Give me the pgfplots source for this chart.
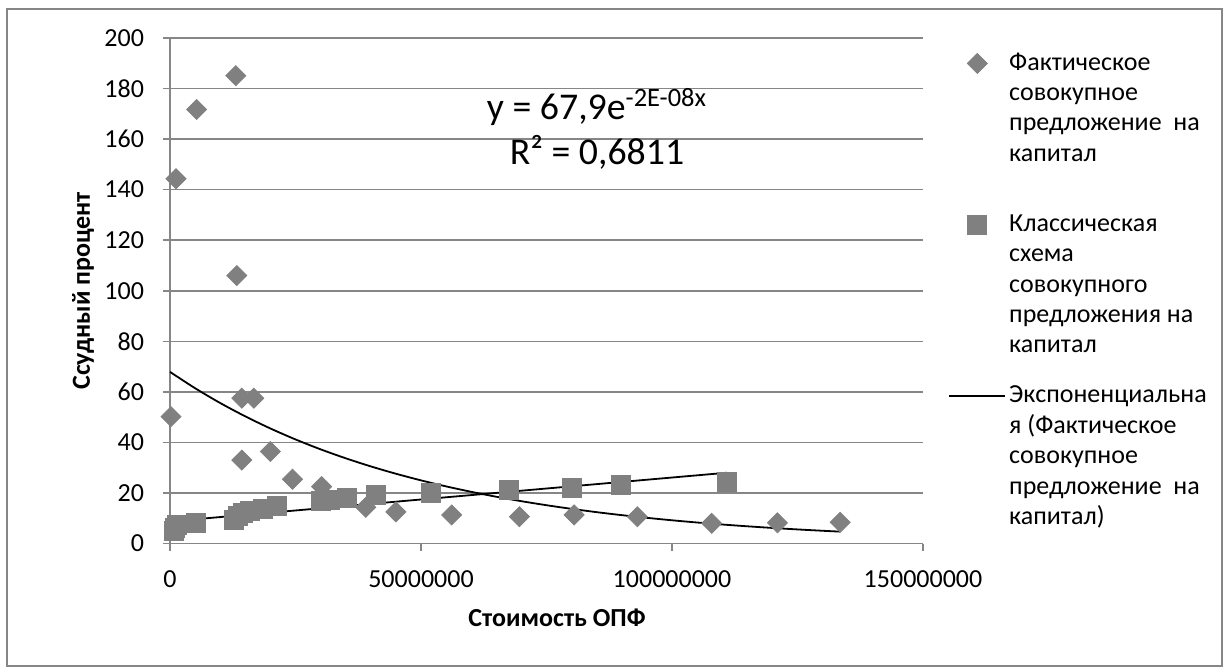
\documentclass[border=0pt]{standalone}
\usepackage{fontspec}
\setmainfont{Carlito}
\usepackage{pgfplots}
\pgfplotsset{compat=1.18}
\definecolor{gridgray}{RGB}{134,134,134}
\definecolor{markgray}{RGB}{128,128,128}
\begin{document}
\fontsize{13bp}{15.15bp}\selectfont
\begin{tikzpicture}[x=1bp,y=1bp]
\useasboundingbox (0,0) rectangle (614,334);
\draw[gridgray, line width=0.6bp] (3.5,1) rectangle (611,329.5);
\begin{axis}[
  at={(85bp,62.25bp)}, anchor=south west,
  scale only axis, width=376.5bp, height=252.75bp,
  xmin=0, xmax=150000000, ymin=0, ymax=200,
  axis lines*=left,
  axis line style={gridgray, line width=0.75bp},
  ymajorgrids, major grid style={gridgray, line width=0.75bp},
  tick style={gridgray, line width=0.75bp},
  tick align=outside, major tick length=3.5bp,
  scaled x ticks=false,
  xtick={0,50000000,100000000,150000000},
  xticklabels={0,50000000,100000000,150000000},
  ytick={0,20,...,200},
  /pgf/number format/assume math mode=true,
  ticklabel style={font=\fontsize{13bp}{15.15bp}\selectfont, text=black},
  xticklabel style={yshift=-5.5bp},
  yticklabel style={xshift=-5bp},
  xlabel={Стоимость ОПФ}, ylabel={Ссудный процент},
  label style={font=\fontsize{13bp}{15.15bp}\selectfont\bfseries},
  xlabel style={at={(axis description cs:0.514,0)}, anchor=center, yshift=-37.25bp},
  ylabel style={at={(axis description cs:-0.1155,0.5)}, anchor=center},
  clip=false,
  legend cell align=left,
  legend style={draw=none, fill=none, inner sep=0pt, at={(axis description cs:1.0332,0.9793)}, anchor=north west, row sep=2.65bp, column sep=1.5bp, font=\fontsize{13bp}{15.15bp}\selectfont, cells={anchor=base west}, nodes={inner sep=0pt}},
  legend image code/.code={\draw[mark repeat=2,mark phase=2,#1] plot coordinates {(0bp,0bp) (14bp,0bp) (28bp,0bp)};},
  legend image post style={yshift=3.3bp},
]
% Фактическое совокупное предложение на капитал
\addplot[only marks, mark=square*, mark size=3.54bp, color=markgray, mark options={rotate=45}] coordinates {
(0.2e6,50.2) (1.2e6,144.3) (5.3e6,171.7) (13.1e6,185.1) (13.3e6,106)
(14.3e6,57.5) (16.7e6,57.5) (14.3e6,33) (20.0e6,36.4) (24.4e6,25.4)
(30.2e6,22.5) (39.0e6,14.3) (45.0e6,12.5) (56.1e6,11.3) (69.6e6,10.6)
(80.5e6,11.3) (93.1e6,10.6) (107.9e6,8.0) (121.0e6,8.2) (133.5e6,8.4)
};
\addlegendentry{\strut Фактическое}
\addlegendimage{empty legend}\addlegendentry{\strut совокупное}
\addlegendimage{empty legend}\addlegendentry{\strut предложение\ \ на}
\addlegendimage{empty legend}\addlegendentry{\strut капитал}
\addlegendimage{empty legend}\addlegendentry{\rule{0pt}{15.2bp}}
% Классическая схема совокупного предложения на капитал
\addplot[only marks, mark=square*, mark size=4.75bp, color=markgray] coordinates {
(0.8e6,4.8) (1.0e6,6.0) (1.3e6,7.2) (5.1e6,8.1)
(12.8e6,9.3) (13.5e6,11.0) (14.5e6,12.0) (16.0e6,13.0) (18.5e6,13.8) (21.3e6,14.8)
(30.0e6,16.7) (31.8e6,17.3) (35.2e6,18.1) (41.0e6,19.2)
(52.0e6,20.1) (67.5e6,21.2) (80.0e6,22.1) (89.9e6,23.2) (110.9e6,24.2)
};
\addlegendentry{\strut Классическая}
\addlegendimage{empty legend}\addlegendentry{\strut схема}
\addlegendimage{empty legend}\addlegendentry{\strut совокупного}
\addlegendimage{empty legend}\addlegendentry{\strut предложения на}
\addlegendimage{empty legend}\addlegendentry{\strut капитал}
\addlegendimage{empty legend}\addlegendentry{\rule{0pt}{5.2bp}}
% linear trendline (not in legend)
\addplot[black, line width=0.9bp, forget plot] coordinates {(1.0e6,8.9) (110.9e6,28.0)};
% exponential trendline
\addplot[black, line width=0.9bp, smooth, mark=none] coordinates {
(0,67.9) (5e6,61.44) (10e6,55.59) (15e6,50.30) (20e6,45.51) (25e6,41.18)
(30e6,37.26) (35e6,33.72) (40e6,30.51) (45e6,27.61) (50e6,24.98) (55e6,22.60)
(60e6,20.45) (65e6,18.50) (70e6,16.74) (75e6,15.15) (80e6,13.71) (85e6,12.40)
(90e6,11.22) (95e6,10.16) (100e6,9.19) (105e6,8.31) (110e6,7.52) (115e6,6.81)
(120e6,6.16) (125e6,5.57) (130e6,5.04) (133.5e6,4.70)
};
\addlegendentry{\strut Экспоненциальна}
\addlegendimage{empty legend}\addlegendentry{\strut я (Фактическое}
\addlegendimage{empty legend}\addlegendentry{\strut совокупное}
\addlegendimage{empty legend}\addlegendentry{\strut предложение\ \ на}
\addlegendimage{empty legend}\addlegendentry{\strut капитал)}
\node[align=center, font=\fontsize{18.9bp}{22.5bp}\selectfont] at (axis cs:85.06e6,164) {y = 67,9e\textsuperscript{-2E-08x}\\R² = 0,6811};
\end{axis}
\end{tikzpicture}
\end{document}
